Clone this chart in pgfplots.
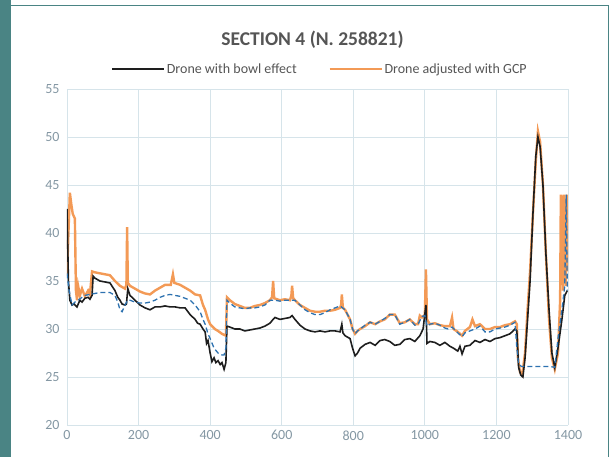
\documentclass[border=0pt]{standalone}
\usepackage{fontspec}
\setmainfont{Carlito}
\usepackage{pgfplots}
\pgfplotsset{compat=1.18}

\definecolor{frameteal}{HTML}{4A8484}
\definecolor{gridblue}{HTML}{D6E4EA}
\definecolor{ticktext}{HTML}{8497A3}
\definecolor{gcporange}{HTML}{F39A56}
\definecolor{bowlblack}{HTML}{1E1E1E}
\definecolor{refblue}{HTML}{2D72B0}
\definecolor{titlegrey}{HTML}{555555}

\begin{document}
\begin{tikzpicture}[x=1pt,y=1pt]
\useasboundingbox (0,0) rectangle (614,457);
\fill[frameteal] (0,0) rectangle (11,457);
\draw[frameteal, line width=1pt] (11,451) -- (608,451) -- (608,0);

\begin{axis}[
    at={(67pt,32pt)}, anchor=south west,
    scale only axis,
    width=501pt, height=336pt,
    xmin=0, xmax=1400,
    ymin=20, ymax=55,
    xtick={0,200,...,1400},
    ytick={20,25,...,55},
    grid=major,
    grid style={gridblue, line width=0.9pt},
    axis line style={draw=none},
    tick style={draw=none},
    ticklabel style={font=\fontsize{14}{14}\selectfont, text=ticktext},
    /pgf/number format/assume math mode=true,
    /pgf/number format/1000 sep={},
    xticklabel style={yshift=-2pt},
    yticklabel style={xshift=-4pt},
    title={SECTION 4 (N. 258821)},
    title style={font=\bfseries\fontsize{19.5}{19.5}\selectfont, text=titlegrey, at={(0.49,1)}, anchor=center, yshift=43pt},
    legend columns=2,
    legend style={draw=none, fill=none, at={(0.505,1)}, anchor=south, yshift=10pt,
        font=\fontsize{14}{14}\selectfont, text=titlegrey,
        /tikz/every even column/.append style={column sep=30pt}},
    legend image code/.code={\draw[#1] (0pt,0pt) -- (52pt,0pt);},
]

% Drone adjusted with GCP (drawn first, underneath)
\addplot[gcporange, line width=2.4pt, forget plot] coordinates {
(0,35.5)(4,40)(8,44.2)(12,43)(16,42)(22,41.5)(25,34)(28,33)(31,34.5)(36,33.5)(42,34.2)(50,33.4)(59,34)(64,33.6)(70,36)(78,35.9)(92,35.8)(120,35.6)(134,35)(148,34.5)(162,34.2)(166,34.6)(168,40.6)(170,34.8)(176,34.5)(190,34.2)(204,33.9)(218,33.7)(232,33.6)(246,34)(260,34.3)(274,34.6)(290,34.6)(296,35.7)(300,34.8)(316,34.6)(330,34.3)(344,34)(358,33.6)(372,33.5)(380,32.5)(386,32)(394,31)(400,30.5)(413,30)(422,29.8)(433,29.5)(444,29.3)(447,33.3)(455,33)(469,32.6)(483,32.4)(497,32.2)(511,32.2)(525,32.4)(539,32.5)(553,32.7)(567,33)(573,33.3)(576,35)(579,33.2)(595,33)(609,33.1)(623,33)(627,33.5)(629,34.5)(632,33.2)(637,33)(651,32.5)(665,32.2)(679,31.9)(693,31.8)(707,31.8)(721,31.9)(735,31.9)(749,32)(763,32.2)(766,32.5)(768,33.6)(771,32.2)(777,32)(791,31)(798,30)(805,29.5)(812,29.8)(819,30)(833,30.3)(847,30.7)(861,30.5)(875,30.8)(888,31)(902,31.5)(916,31.5)(930,30.6)(944,30.7)(958,31)(972,30.5)(981,30.5)(986,31.4)(992,31.2)(1000,31.5)(1003,36.2)(1006,31)(1014,30.5)(1028,30.6)(1042,30.4)(1056,30.3)(1070,30.3)(1076,31.2)(1080,30)(1092,29.7)(1104,29.3)(1112,29.8)(1126,30.2)(1133,31)(1140,30.3)(1154,30.5)(1168,30)(1182,30)(1196,30.2)(1210,30.2)(1224,30.4)(1238,30.5)(1252,30.8)(1257,30.5)(1260,27)(1266,25.5)(1272,25.2)(1280,27.5)(1287,32)(1294,36)(1302,42)(1310,47.5)(1316,50.6)(1322,49.5)(1330,45)(1338,38)(1347,31)(1355,27)(1363,25.8)(1372,27.5)(1378,33)(1380,44)(1382,35)(1384,43.5)(1386,34)(1388,44)(1390,35)(1392,43.5)(1394,34.5)(1396,44)(1398,36)
};

% Drone with bowl effect
\addplot[bowlblack, line width=1.6pt] coordinates {
(0,42.5)(4,35)(8,33)(14,32.5)(20,32.6)(28,32.3)(36,33)(42,32.8)(50,33.2)(59,33.3)(64,33.1)(70,33.5)(73,35.5)(78,35.3)(92,35)(106,34.9)(120,34.8)(134,34)(142,33.3)(148,33)(154,32.6)(162,32.5)(166,32.6)(170,34.2)(176,33.5)(190,33)(204,32.5)(218,32.2)(232,32)(246,32.3)(260,32.3)(274,32.4)(288,32.3)(302,32.3)(316,32.2)(330,32.2)(344,31.5)(358,31)(365,30.6)(372,30.5)(380,30)(386,29.7)(390,28.5)(394,28.8)(400,27.5)(405,26.6)(411,27)(416,26.5)(422,26.7)(428,26.3)(433,26.5)(439,25.8)(444,26.5)(447,30.3)(455,30.2)(469,30)(483,30)(497,29.8)(511,29.9)(525,30)(539,30.1)(553,30.3)(567,30.6)(576,31)(581,31.2)(595,31)(609,31.1)(623,31.2)(629,31.4)(637,31)(651,30.4)(665,30)(679,29.8)(693,29.7)(707,29.8)(721,29.7)(735,29.8)(749,29.8)(763,29.7)(768,30.5)(771,29.6)(777,29.3)(791,29)(798,28)(805,27.2)(812,27.5)(819,28)(833,28.4)(847,28.6)(861,28.3)(875,28.8)(888,28.9)(902,28.7)(916,28.3)(930,28.4)(944,28.9)(958,29)(972,28.7)(986,29.3)(995,30)(1003,32.5)(1006,28.5)(1014,28.7)(1028,28.6)(1042,28.3)(1056,28.6)(1070,28.2)(1080,28)(1092,27.7)(1098,28.2)(1104,27.4)(1112,28.2)(1126,28.3)(1140,28.8)(1154,28.6)(1168,28.9)(1182,28.7)(1196,29)(1210,29.1)(1224,29.3)(1238,29.5)(1252,30)(1257,29.8)(1262,26)(1268,25.2)(1274,25)(1280,27)(1287,31)(1294,35)(1302,42)(1310,48)(1316,50)(1322,49)(1330,45)(1338,38)(1347,32)(1355,27.5)(1363,26)(1372,28)(1383,31)(1391,33.5)(1398,34)
};
\addlegendentry{Drone with bowl effect}

% reference (dashed)
\addplot[refblue, line width=1.3pt, dash pattern=on 5pt off 3pt, forget plot] coordinates {
(0,35.8)(6,34)(14,32.5)(22,32.8)(31,33)(42,33.3)(50,33.5)(64,33.6)(78,33.7)(92,33.8)(106,33.8)(120,33.8)(134,33.5)(142,32.8)(148,32)(154,31.8)(162,32.5)(170,33)(176,33)(190,32.8)(204,32.7)(218,32.7)(232,32.8)(246,33)(260,33.3)(274,33.5)(288,33.6)(302,33.5)(316,33.4)(330,33.2)(344,33)(358,32.5)(372,31.8)(380,31)(386,30.5)(394,29.5)(400,29)(411,28)(422,27.5)(433,27.3)(439,27.3)(444,28)(447,33)(455,32.7)(469,32.3)(483,32.2)(497,32.1)(511,32.2)(525,32.2)(539,32.3)(553,32.5)(567,33)(581,33)(595,32.9)(609,33)(623,33)(637,33)(651,32.5)(665,32)(679,31.7)(693,31.5)(707,31.5)(721,31.7)(735,32)(749,32.2)(763,32.4)(777,32)(791,31)(798,30)(805,29.5)(812,29.8)(819,30)(833,30.4)(847,30.7)(861,30.5)(875,30.8)(888,31.1)(902,31.5)(916,31.5)(930,30.5)(944,30.7)(958,31)(972,30.4)(981,30.5)(992,31.3)(1000,31.4)(1006,30.3)(1014,30.5)(1028,30.6)(1042,30.4)(1056,30.1)(1065,30)(1076,30.2)(1092,29.6)(1104,29.2)(1112,29.6)(1126,29.8)(1140,30)(1154,30.3)(1168,29.7)(1182,29.7)(1196,30)(1210,30.1)(1224,30.2)(1238,30.4)(1252,30.7)(1257,28)(1262,26.3)(1270,26.1)(1290,26.1)(1310,26.1)(1330,26.1)(1350,26.1)(1363,26)(1372,29)(1383,32)(1391,34.5)(1395,44)(1398,34)
};

\addlegendimage{gcporange, line width=1.8pt}
\addlegendentry{Drone adjusted with GCP}

\end{axis}
\end{tikzpicture}
\end{document}
